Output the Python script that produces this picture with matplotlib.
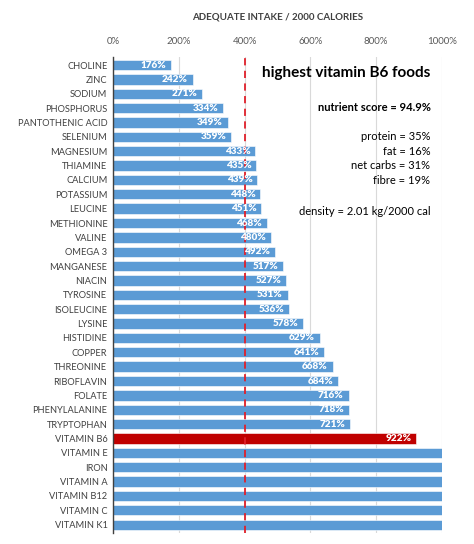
import matplotlib
matplotlib.use("Agg")
import matplotlib.pyplot as plt
from matplotlib.ticker import FuncFormatter

plt.rcParams["font.family"] = ["Lato", "DejaVu Sans"]

nutrients = ["CHOLINE", "ZINC", "SODIUM", "PHOSPHORUS", "PANTOTHENIC ACID", "SELENIUM",
             "MAGNESIUM", "THIAMINE", "CALCIUM", "POTASSIUM", "LEUCINE", "METHIONINE",
             "VALINE", "OMEGA 3", "MANGANESE", "NIACIN", "TYROSINE", "ISOLEUCINE",
             "LYSINE", "HISTIDINE", "COPPER", "THREONINE", "RIBOFLAVIN", "FOLATE",
             "PHENYLALANINE", "TRYPTOPHAN", "VITAMIN B6", "VITAMIN E", "IRON",
             "VITAMIN A", "VITAMIN B12", "VITAMIN C", "VITAMIN K1"]
values = [176, 242, 271, 334, 349, 359, 433, 435, 439, 448, 451, 468, 480, 492, 517,
          527, 531, 536, 578, 629, 641, 668, 684, 716, 718, 721, 922,
          1000, 1000, 1000, 1000, 1000, 1000]
labels = ["176%", "242%", "271%", "334%", "349%", "359%", "433%", "435%", "439%", "448%",
          "451%", "468%", "480%", "492%", "517%", "527%", "531%", "536%", "578%", "629%",
          "641%", "668%", "684%", "716%", "718%", "721%", "922%", "", "", "", "", "", ""]
highlight = "VITAMIN B6"
target = 400

info_lines = ["protein = 35%", "fat = 16%", "net carbs = 31%", "fibre = 19%"]

fig = plt.figure(figsize=(4.74, 5.44), dpi=100)
ax = fig.add_axes([0.2384, 0.021, 0.694, 0.874])

colors = ["#C00000" if n == highlight else "#5B9BD5" for n in nutrients]
y = list(range(len(nutrients)))
ax.barh(y, values, height=0.72, color=colors, edgecolor="white", linewidth=0.4, zorder=2)

for yi, v, lab in zip(y, values, labels):
    if lab:
        ax.text(v - 15, yi, lab, ha="right", va="center", color="white",
                fontsize=7.2, fontweight="heavy", zorder=4)

ax.axvline(target, color="#E0202A", linestyle=(0, (4, 3)), linewidth=1.3, zorder=3)

ax.set_xlim(0, 1000)
ax.set_ylim(len(nutrients) - 0.45, -0.55)
ax.set_yticks(y)
ax.set_yticklabels(nutrients, fontsize=6.7, color="#404040")
ax.set_xticks(range(0, 1001, 200))
ax.xaxis.set_major_formatter(FuncFormatter(lambda v, p: f"{int(v)}%"))
ax.xaxis.tick_top()
ax.tick_params(axis="x", labelsize=7, labelcolor="#595959", length=0, pad=8)
ax.tick_params(axis="y", length=0, pad=4)
ax.grid(axis="x", color="#D9D9D9", linewidth=0.8, zorder=0)
for s in ["top", "right", "bottom"]:
    ax.spines[s].set_visible(False)
ax.spines["left"].set_color("#404040")
ax.spines["left"].set_linewidth(1.0)

ax.set_title("ADEQUATE INTAKE / 2000 CALORIES", fontsize=7, fontweight="bold",
             color="#404040", pad=27)

tx = 0.965
ax.text(tx, 0.966, "highest vitamin B6 foods", transform=ax.transAxes, ha="right",
        va="center", fontsize=11, fontweight="bold", color="black")
ax.text(tx, 0.895, "nutrient score = 94.9%", transform=ax.transAxes, ha="right",
        va="center", fontsize=8, fontweight="bold", color="black")
for i, line in enumerate(info_lines):
    ax.text(tx, 0.834 - i * 0.0315, line, transform=ax.transAxes, ha="right",
            va="center", fontsize=8, color="black")
ax.text(tx, 0.676, "density = 2.01 kg/2000 cal", transform=ax.transAxes, ha="right",
        va="center", fontsize=8, color="black")

fig.savefig("out.png", dpi=100)
